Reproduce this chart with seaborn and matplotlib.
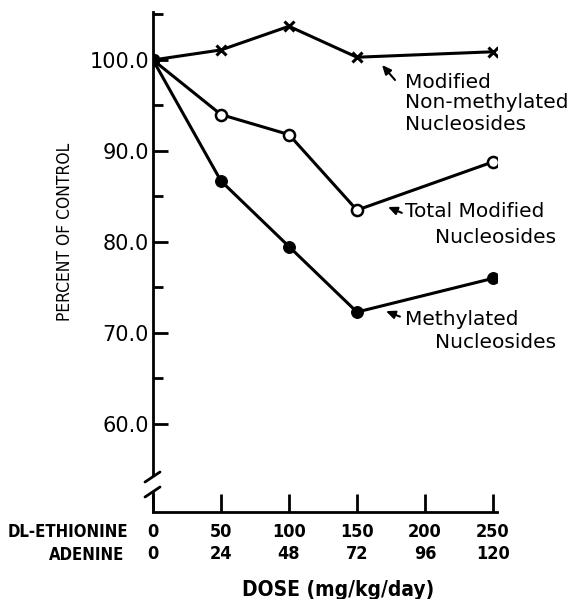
import matplotlib
matplotlib.use("Agg")
import matplotlib.pyplot as plt
import matplotlib.lines as mlines
import pandas as pd
import seaborn as sns

# dose axis (mg/kg/day)
ethionine = [0, 50, 100, 150, 200, 250]
adenine = [0, 24, 48, 72, 96, 120]

# measured doses and percent of control
dose = [0, 50, 100, 150, 250]
non_methylated = [100.0, 101.1, 103.7, 100.3, 100.9]
total_modified = [100.0, 94.0, 91.8, 83.5, 88.8]
methylated = [100.0, 86.7, 79.5, 72.3, 76.0]

y_major = [60, 70, 80, 90, 100]
y_minor = [65, 75, 85, 95, 105]

sns.set_theme(style="ticks")
plt.rcParams["font.family"] = ["DejaVu Sans"]
plt.rcParams.update({"text.color": "black", "axes.labelcolor": "black",
                     "xtick.color": "black", "ytick.color": "black",
                     "axes.edgecolor": "black"})
cond = dict(family="DejaVu Sans", fontstretch="condensed")

fig = plt.figure(figsize=(5.76, 5.99), dpi=100)
ax = fig.add_axes([153 / 576, 87 / 599, 344 / 576, 500 / 599])

df = pd.DataFrame({"dose": dose, "non": non_methylated,
                   "total": total_modified, "meth": methylated})

sns.lineplot(data=df, x="dose", y="non", ax=ax, color="black", lw=2.2,
             marker="x", markersize=7.5, mew=2.2, mec="black")
sns.lineplot(data=df, x="dose", y="total", ax=ax, color="black", lw=2.2,
             marker="o", markersize=8, mfc="white", mec="black", mew=1.8)
sns.lineplot(data=df, x="dose", y="meth", ax=ax, color="black", lw=2.2,
             marker="o", markersize=8.5, mfc="black", mec="black")

ax.set_xlim(0, 253)
ax.set_ylim(50.33, 105.27)

for s in ["top", "right"]:
    ax.spines[s].set_visible(False)
ax.spines["left"].set_bounds(54.4, 105.27)
ax.spines["left"].set_linewidth(2)
ax.spines["bottom"].set_linewidth(2)
ax.spines["bottom"].set_bounds(0, 253)

# y ticks
ax.set_yticks(y_major)
ax.set_yticklabels([f"{v:.1f}" for v in y_major], fontsize=15)
ax.set_yticks(y_minor, minor=True)
ax.tick_params(axis="y", which="major", direction="in", length=11, width=2, pad=3)
ax.tick_params(axis="y", which="minor", direction="in", length=7, width=2)

# x ticks with two rows of labels
ax.set_xticks(ethionine)
ax.set_xticklabels([f"{a}\n{b}" for a, b in zip(ethionine, adenine)],
                   fontsize=13, fontweight="bold", linespacing=1.3, **cond)
ax.tick_params(axis="x", direction="in", length=13, width=2, pad=8)

ax.set_xlabel("DOSE (mg/kg/day)", fontsize=15, fontweight="bold", va="center", **cond)
ax.xaxis.set_label_coords((338 - 153) / 344, (512 - 590) / 500)
ax.set_ylabel("PERCENT OF CONTROL", fontsize=12.5, va="center", **cond)
ax.yaxis.set_label_coords(-(153 - 65) / 344, (512 - 232) / 500)

fig.text(128 / 576, 1 - 532 / 599, "DL-ETHIONINE", ha="right", va="center",
         fontsize=12, fontweight="bold", **cond)
fig.text(124 / 576, 1 - 555 / 599, "ADENINE", ha="right", va="center",
         fontsize=12, fontweight="bold", **cond)

# axis break
tr = fig.transFigure
def px(x, y):
    return x / 576, 1 - y / 599
for (x0, y0, x1, y1) in [(145, 482, 160, 472), (145, 497, 160, 487)]:
    a, b = px(x0, y0)
    c, d = px(x1, y1)
    fig.add_artist(mlines.Line2D([a, c], [b, d], color="black", lw=2, transform=tr))
a, b = px(153, 492)
c, d = px(153, 512)
fig.add_artist(mlines.Line2D([a, c], [b, d], color="black", lw=2, transform=tr))

# annotations
txt = dict(fontsize=14.5, ha="left", va="center")
arrow = dict(arrowstyle="-|>,head_length=0.45,head_width=0.2", color="black", lw=1.5,
             shrinkA=0, shrinkB=0)
ax.annotate("", xy=(168.4, 99.45), xytext=(178, 97.8), arrowprops=arrow)
ax.text(185.3, 97.5, "Modified", **txt)
ax.text(185.3, 95.3, "Non-methylated", **txt)
ax.text(185.3, 92.9, "Nucleosides", **txt)

ax.annotate("", xy=(172.8, 83.85), xytext=(183, 83.2), arrowprops=arrow)
ax.text(185, 83.3, "Total Modified", **txt)
ax.text(207.4, 80.5, "Nucleosides", **txt)

ax.annotate("", xy=(171.3, 72.4), xytext=(181.6, 71.8), arrowprops=arrow)
ax.text(185.3, 71.5, "Methylated", **txt)
ax.text(207.4, 68.9, "Nucleosides", **txt)

fig.savefig("out.png", dpi=100)
